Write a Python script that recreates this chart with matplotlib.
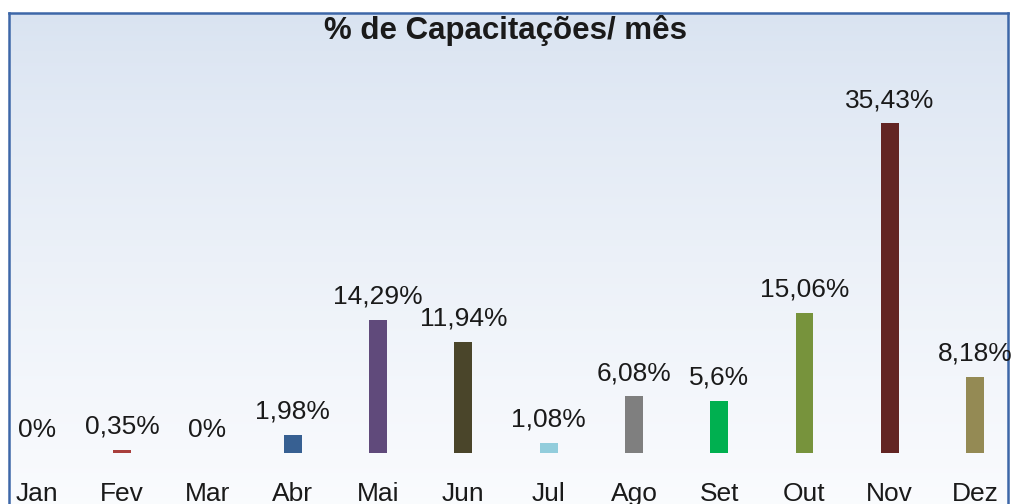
import matplotlib.pyplot as plt
import numpy as np

months = ['Jan', 'Fev', 'Mar', 'Abr', 'Mai', 'Jun', 'Jul', 'Ago', 'Set', 'Out', 'Nov', 'Dez']
values = [0, 0.35, 0, 1.98, 14.29, 11.94, 1.08, 6.08, 5.6, 15.06, 35.43, 8.18]
labels = ['0%', '0,35%', '0%', '1,98%', '14,29%', '11,94%', '1,08%', '6,08%', '5,6%', '15,06%', '35,43%', '8,18%']
colors = ['#4f81bd', '#a93f3c', '#9bbb59', '#376092', '#604a7b', '#4a452a',
          '#92cddc', '#7f7f7f', '#00b050', '#77933c', '#632523', '#948a54']

plt.rcParams['font.family'] = ['Liberation Sans', 'DejaVu Sans']

W, H = 1019, 504
fig = plt.figure(figsize=(W / 100, H / 100), dpi=100)
fig.patch.set_facecolor('white')

# background panel with vertical gradient and blue border
bg = fig.add_axes([9 / W, 0, (1008 - 9) / W, (H - 13) / H])
grad = np.linspace(0, 1, 256).reshape(-1, 1)
top = np.array([0.85, 0.89, 0.945])
bot = np.array([0.98, 0.985, 0.995])
img = top + (bot - top) * grad[..., None] ** 0.8
bg.imshow(img, aspect='auto', extent=[0, 1, 0, 1], origin='upper')
bg.set_xticks([])
bg.set_yticks([])
for s in ['left', 'right', 'top']:
    bg.spines[s].set_color('#3d67a8')
    bg.spines[s].set_linewidth(1.8)
bg.spines['bottom'].set_visible(False)

ax = fig.add_axes([0, 0, 1, 1])
ax.patch.set_alpha(0)
x = np.arange(len(months))
ax.bar(x, values, width=0.21, color=colors, zorder=3)
ax.set_xlim(-0.434, 11.516)
ax.set_ylim(-5.48, 48.66)
ax.axis('off')

for i, (v, lab) in enumerate(zip(values, labels)):
    ax.annotate(lab, (i, v), xytext=(0, 11.5), textcoords='offset points',
                ha='center', va='baseline', fontsize=19, color='#1a1a1a')
    ax.text(i, -5.16, months[i], ha='center', va='baseline', fontsize=19, color='#1a1a1a')

fig.text(506 / W, 1 - 39 / H, '% de Capacitações/ mês', ha='center', va='baseline',
         fontsize=22.5, fontweight='bold', color='#1a1a1a')

fig.savefig('out.png', dpi=100)
